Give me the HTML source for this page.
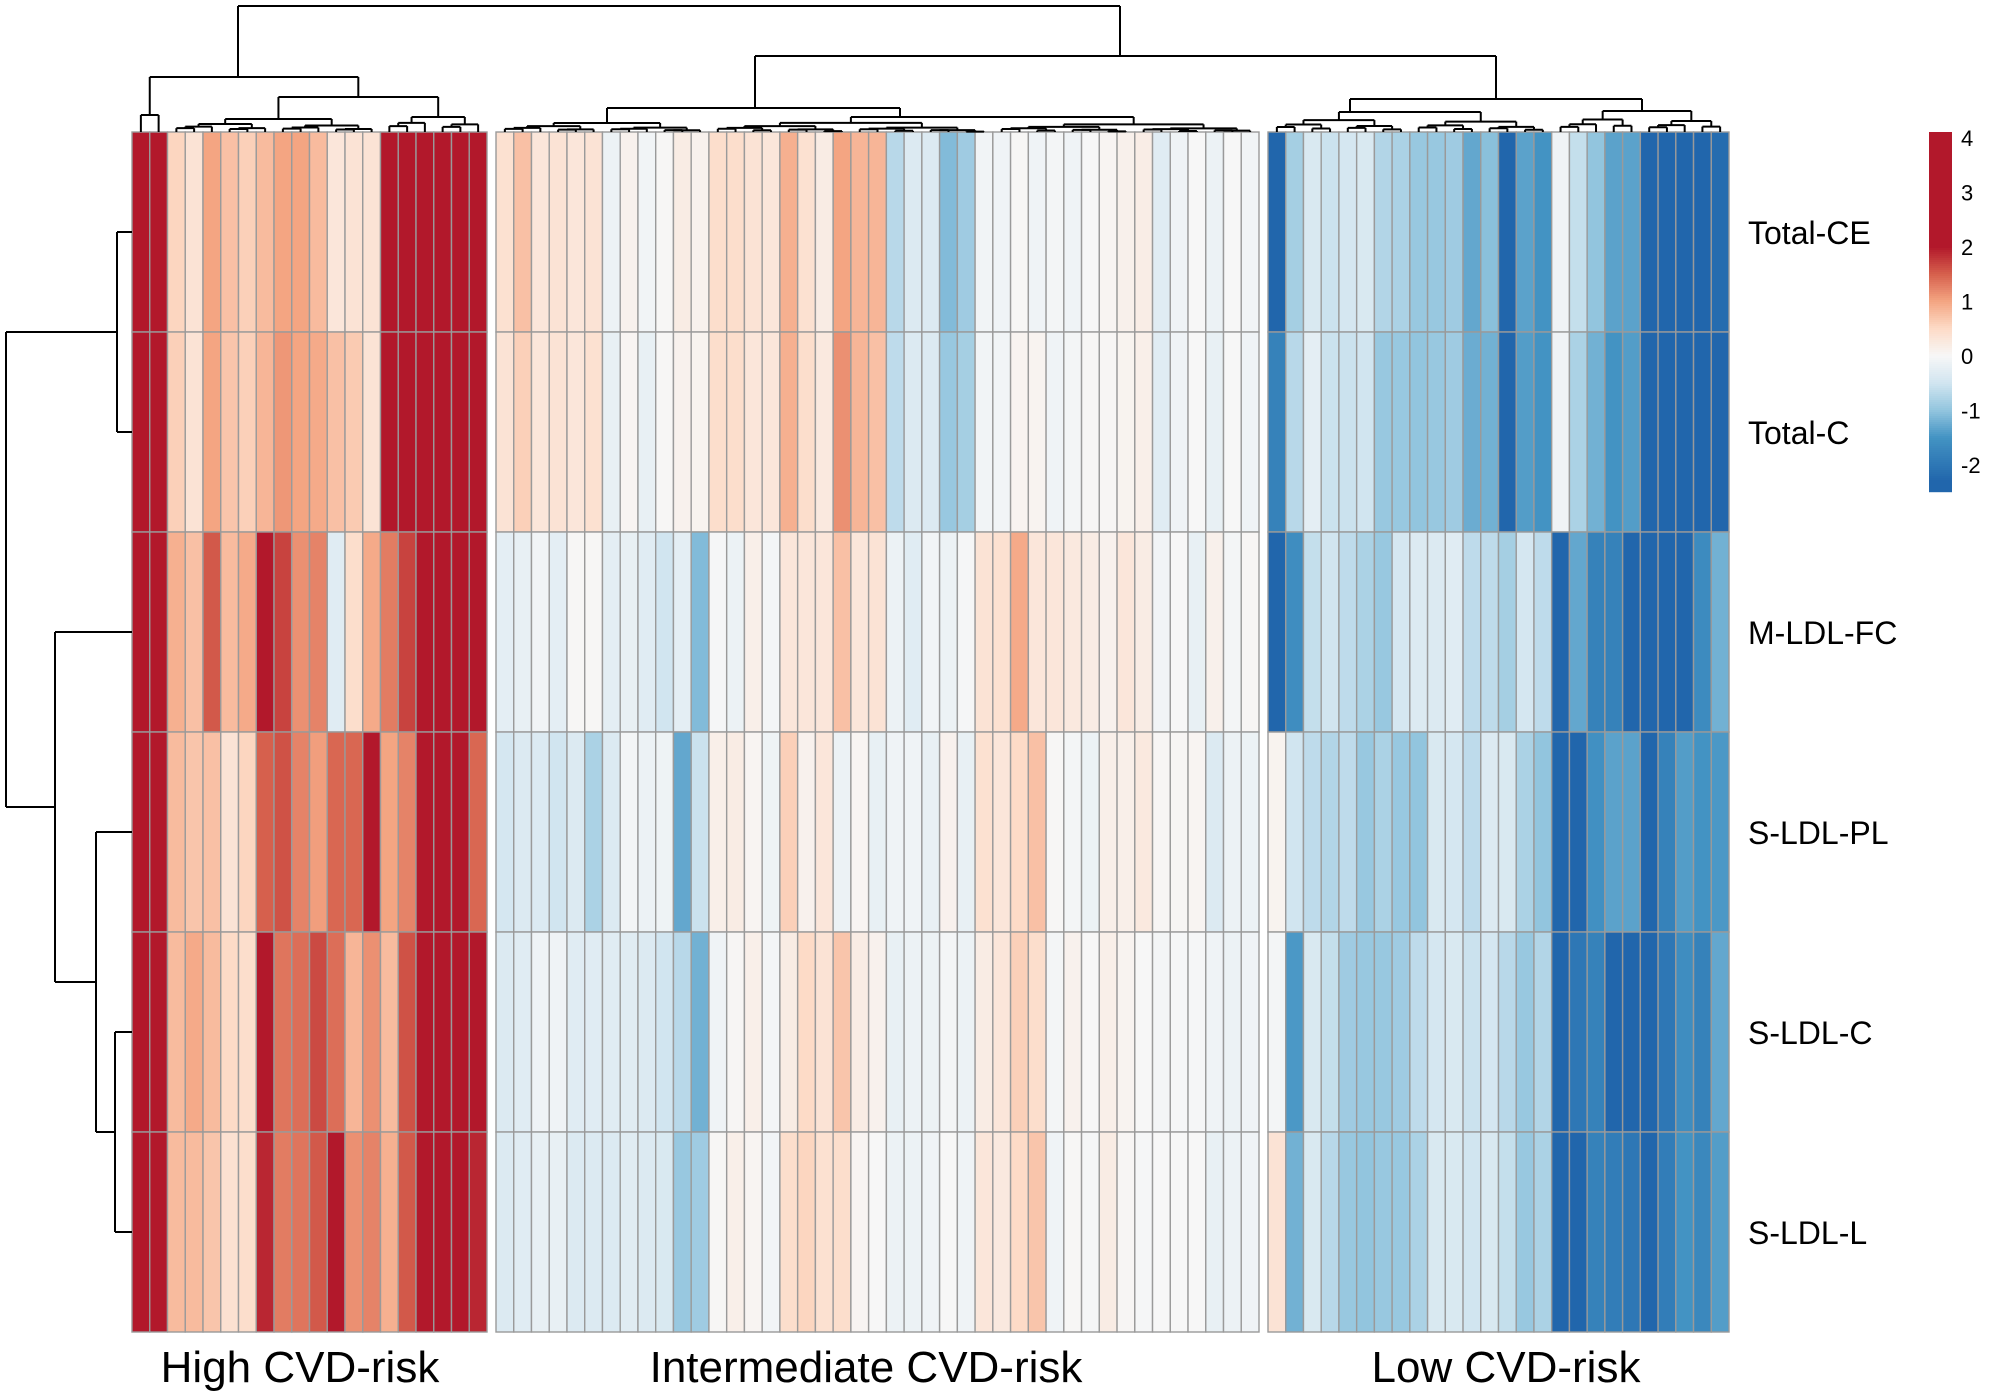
<!DOCTYPE html>
<html><head><meta charset="utf-8"><style>
html,body{margin:0;padding:0;background:#fff;}
svg{display:block;font-family:"Liberation Sans",sans-serif;}
</style></head><body>
<svg id="chart" width="2000" height="1400" viewBox="0 0 2000 1400" xmlns="http://www.w3.org/2000/svg">
<g id="cells"></g>
<g id="coltree" stroke="#000" stroke-width="2" fill="none"></g>
<g id="rowtree" stroke="#000" stroke-width="2" fill="none"></g>
<g id="rowlabels"></g>
<g id="grouplabels"></g>
<g id="legend"></g>
</svg>
<script>
const rowNames = ["Total-CE","Total-C","M-LDL-FC","S-LDL-PL","S-LDL-C","S-LDL-L"];
const groupNames = ["High CVD-risk","Intermediate CVD-risk","Low CVD-risk"];
const legendTicks = [4,3,2,1,0,-1,-2];
const highVals = [
[4,4,0.55,0.35,1.0,0.75,0.6,0.8,1.0,1.0,0.8,0.3,0.35,0.35,4,4,4,4,4,4],
[4,4,0.6,0.35,1.0,0.7,0.6,0.85,1.1,1.0,0.95,0.75,0.65,0.35,4,4,4,4,4,4],
[4,4,0.9,0.75,1.55,0.8,0.95,2.2,1.7,1.15,1.25,-0.3,0.45,0.95,1.3,1.7,4,4,4,4],
[4,4,0.8,0.7,0.75,0.35,0.55,1.5,1.6,1.25,1.05,1.45,1.45,2.0,1.0,1.25,4,4,4,1.45],
[4,4,0.8,0.95,0.8,0.5,0.45,2.5,1.35,1.4,1.65,1.4,0.85,1.15,0.8,1.6,4,4,4,4],
[4,4,0.8,0.8,0.7,0.4,0.45,1.9,1.3,1.35,1.55,2.5,1.15,1.25,0.9,1.55,4,4,4,1.9]
];
const intVals = [
[0.4,0.75,0.3,0.35,0.3,0.35,-0.15,0.1,-0.08,0.02,0.2,0.1,0.45,0.45,0.35,0.3,0.9,0.4,0.2,1.0,0.85,0.85,-0.7,-0.35,-0.35,-1.1,-0.9,-0.08,-0.1,0.02,-0.1,-0.05,-0.1,0.0,0.05,0.12,0.18,-0.3,-0.1,0.0,-0.15,0.0,-0.08],
[0.35,0.6,0.3,0.35,0.3,0.4,-0.2,0.05,-0.2,0.02,0.1,0.08,0.45,0.45,0.3,0.3,0.9,0.45,0.25,1.15,0.85,0.75,-0.65,-0.35,-0.35,-0.95,-0.85,-0.08,-0.08,0.07,0.07,-0.1,-0.05,0.02,0.03,0.08,0.15,-0.3,-0.1,0.0,-0.2,0.0,-0.1],
[-0.25,-0.2,-0.08,-0.25,0.02,0.02,-0.25,-0.2,-0.3,-0.5,-0.25,-1.1,-0.02,-0.15,0.15,-0.05,0.3,0.3,0.3,0.75,0.3,0.35,-0.15,-0.3,-0.08,-0.15,-0.03,0.35,0.4,0.95,0.3,0.3,0.25,0.2,0.1,0.3,0.2,-0.08,0.0,-0.2,0.12,-0.05,0.03],
[-0.45,-0.35,-0.35,-0.5,-0.35,-0.8,-0.35,-0.05,-0.15,-0.12,-1.3,-0.55,0.15,0.2,0.05,-0.12,0.6,0.1,0.3,-0.15,0.05,-0.2,-0.1,-0.1,-0.2,0.1,-0.2,0.4,0.3,0.5,0.75,0.02,-0.05,-0.15,0.15,0.15,0.25,0.03,0.03,0.05,-0.35,-0.15,-0.15],
[-0.35,-0.3,-0.1,-0.1,-0.3,-0.3,-0.3,-0.3,-0.35,-0.5,-0.7,-1.2,-0.1,0.03,0.15,-0.05,0.2,0.5,0.35,0.7,0.2,0.1,-0.2,-0.15,-0.15,-0.05,-0.15,0.2,0.3,0.6,0.45,-0.05,0.1,0.0,0.15,0.07,0.0,-0.05,-0.03,-0.03,-0.1,-0.15,-0.1],
[-0.35,-0.3,-0.2,-0.2,-0.35,-0.35,-0.35,-0.3,-0.35,-0.4,-0.95,-0.9,0.02,0.15,0.05,-0.08,0.45,0.55,0.4,0.45,0.05,0.0,-0.15,-0.15,-0.1,0.0,-0.1,0.3,0.25,0.5,0.7,-0.1,0.02,-0.03,0.2,0.03,-0.02,0.0,0.0,0.0,-0.2,-0.15,-0.1]
];
const lowVals = [
[-2.3,-0.85,-0.4,-0.55,-0.45,-0.4,-0.75,-0.8,-0.95,-0.95,-0.9,-1.3,-1.05,-2.3,-1.35,-1.5,-0.1,-0.6,-1.0,-1.35,-1.35,-2.3,-2.3,-2.3,-2.3,-2.2],
[-1.8,-0.7,-0.25,-0.55,-0.55,-0.5,-0.95,-0.95,-1.0,-0.95,-0.9,-1.25,-1.2,-2.3,-1.4,-1.5,-0.1,-0.8,-1.2,-1.5,-1.4,-2.3,-2.3,-2.3,-2.3,-2.3],
[-2.3,-1.6,-0.6,-0.5,-0.65,-0.8,-0.95,-0.45,-0.35,-0.35,-0.3,-0.65,-0.65,-0.85,-0.45,-0.65,-2.3,-1.3,-1.8,-1.8,-2.3,-2.3,-2.3,-2.3,-1.65,-1.2],
[0.08,-0.5,-0.65,-0.75,-0.65,-0.95,-0.8,-0.95,-1.0,-0.4,-0.45,-0.65,-0.35,-0.4,-0.8,-1.0,-2.3,-2.3,-1.55,-1.35,-1.35,-2.3,-1.8,-1.4,-1.5,-1.45],
[-0.05,-1.45,-0.4,-0.6,-0.9,-0.95,-0.95,-0.9,-0.65,-0.45,-0.4,-0.55,-0.45,-0.7,-0.95,-0.75,-2.3,-2.0,-1.8,-2.3,-2.3,-2.3,-2.0,-1.6,-1.8,-1.3],
[0.35,-1.2,-0.4,-0.7,-0.95,-1.0,-0.95,-0.95,-0.8,-0.4,-0.4,-0.5,-0.4,-0.6,-0.95,-0.8,-2.3,-2.3,-1.8,-1.9,-2.0,-2.3,-1.9,-1.5,-1.7,-1.4]
];

const NS = "http://www.w3.org/2000/svg";
function mk(tag, attrs, parent){const e=document.createElementNS(NS,tag);for(const k in attrs)e.setAttribute(k,attrs[k]);parent.appendChild(e);return e;}
const stops=[[-2.3,[33,102,172]],[-1.5,[67,147,195]],[-1,[146,197,222]],[-0.5,[209,229,240]],[0,[247,247,247]],[0.5,[253,219,199]],[1,[244,165,130]],[1.5,[214,96,77]],[2,[178,24,43]]];
function color(v){
  if(v<=stops[0][0])return "rgb("+stops[0][1].join(",")+")";
  for(let i=1;i<stops.length;i++){if(v<=stops[i][0]){const a=stops[i-1],b=stops[i],t=(v-a[0])/(b[0]-a[0]);return "rgb("+a[1].map((c,j)=>Math.round(c+(b[1][j]-c)*t)).join(",")+")";}}
  return "rgb("+stops[stops.length-1][1].join(",")+")";
}
const TOP=132,BOT=1332,RH=(BOT-TOP)/rowNames.length;
const groups=[{x0:132,x1:487,vals:highVals},{x0:496,x1:1259,vals:intVals},{x0:1268,x1:1729,vals:lowVals}];
const rowY=r=>TOP+r*RH;
const cells=document.getElementById('cells');
const leafX=[];
groups.forEach((g,gi)=>{
  const n=g.vals[0].length,w=(g.x1-g.x0)/n;
  for(let c=0;c<n;c++)leafX.push(g.x0+w*(c+0.5));
  g.vals.forEach((row,r)=>row.forEach((v,c)=>{
    const el=mk('rect',{x:g.x0+w*c,y:rowY(r),width:w,height:RH,fill:color(v),stroke:"#9a9a9a","stroke-width":1.4},cells);
    
    
  }));
});
// column dendrogram
const ct=document.getElementById('coltree');
function seg(g,x1,y1,x2,y2){mk('line',{x1:x1,y1:y1,x2:x2,y2:y2},g);}
function auto(l,r,y,ox){
  if(l===r)return [leafX[l],TOP];
  const m=Math.floor((l+r)/2);
  const cy=y+(TOP-2-y)*0.45;
  const a=auto(l,m,cy),b=auto(m+1,r,cy+1.5);
  join(a,b,y);return [ox!==undefined?ox:(a[0]+b[0])/2,y];
}
function join(a,b,y){seg(ct,a[0],a[1],a[0],y);seg(ct,b[0],b[1],b[0],y);seg(ct,a[0],y,b[0],y);}
function node(a,b,y,ox){join(a,b,y);return [ox!==undefined?ox:(a[0]+b[0])/2,y];}
const hA=node(auto(0,1,115),node(auto(2,13,119),auto(14,19,117),97),77,238);
const hInt=node(auto(20,31,123,607),auto(32,62,117,900),108,755);
const hLow=node(auto(63,78,112,1350),auto(79,88,111,1642),99,1496);
const hB=node(hInt,hLow,56,1120);
node(hA,hB,6);
// row dendrogram
const rt=document.getElementById('rowtree');
const rc=r=>TOP+RH*(r+0.5);
function rjoin(a,b,x){seg(rt,a[0],a[1],x,a[1]);seg(rt,b[0],b[1],x,b[1]);seg(rt,x,a[1],x,b[1]);return [x,(a[1]+b[1])/2];}
const R=132;
const n01=rjoin([R,rc(0)],[R,rc(1)],117);
const n45=rjoin([R,rc(4)],[R,rc(5)],115);
const n345=rjoin([R,rc(3)],n45,96);
const n2345=rjoin([R,rc(2)],n345,55);
rjoin(n01,n2345,6);
// row labels
const rl=document.getElementById('rowlabels');
rowNames.forEach((nm,r)=>{
  const t=mk('text',{x:1748,y:rc(r)+12,"font-size":32,fill:"#000"},rl);t.textContent=nm;
  
  
});
const gl=document.getElementById('grouplabels');
const gcx=[300,866,1506];
groupNames.forEach((nm,i)=>{
  const t=mk('text',{x:gcx[i],y:1382,"font-size":44,"text-anchor":"middle",fill:"#000"},gl);t.textContent=nm;
  
  
});
// legend
const lg=document.getElementById('legend');
const vY=v=>138+(4-v)*54.5;
const lTop=132,lBot=492;
for(let y=lTop;y<lBot;y+=2){
  const v=4-(y+1-138)/54.5;
  const el=mk('rect',{x:1929,y:y,width:23,height:2.2,fill:color(v)},lg);
  
  
}
legendTicks.forEach(v=>{
  const t=mk('text',{x:1961,y:vY(v)+8,"font-size":22,fill:"#000"},lg);t.textContent=String(v);
  
  
});
</script>
</body></html>
